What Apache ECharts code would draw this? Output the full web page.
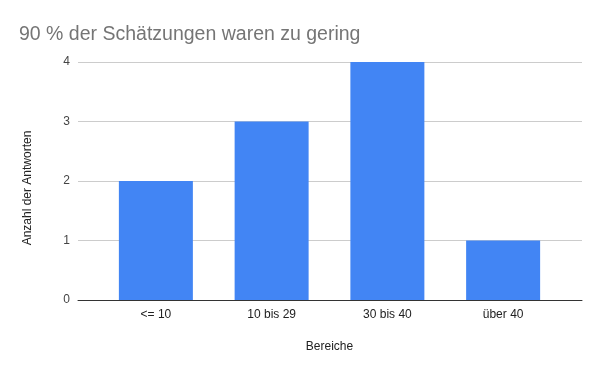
<!DOCTYPE html>
<html><head><meta charset="utf-8">
<script src="https://cdn.jsdelivr.net/npm/echarts@6/dist/echarts.min.js"></script>
<style>html,body{margin:0;padding:0;background:#fff}#c{width:600px;height:371px}</style>
</head><body><div id="c"></div>
<script>
const categories = ['<= 10', '10 bis 29', '30 bis 40', 'über 40'];
const values = [2, 3, 4, 1];
const yTicks = [0, 1, 2, 3, 4];
const titleText = '90 % der Schätzungen waren zu gering';
const xName = 'Bereiche';
const yName = 'Anzahl der Antworten';

const chart = echarts.init(document.getElementById('c'), null, {renderer: 'canvas'});
const font = 'Arial, "Liberation Sans", sans-serif';
chart.setOption({
  animation: false,
  title: {text: titleText, left: 14, top: 20,
    textStyle: {fontFamily: font, fontSize: 19.5, fontWeight: 'normal', color: '#757575'}},
  grid: [
    {left: 98, right: 39, top: 62, bottom: 71},
    {left: 78, right: 18, top: 62, bottom: 71}
  ],
  graphic: [{
    type: 'text', x: 28, y: 188, rotation: Math.PI / 2,
    style: {text: yName, font: '12px Arial, "Liberation Sans", sans-serif', fill: '#222',
      align: 'center', verticalAlign: 'middle'}
  }],
  xAxis: [
    {gridIndex: 0, type: 'category', data: categories,
      axisLine: {show: false}, axisTick: {show: false},
      axisLabel: {fontFamily: font, fontSize: 12, color: '#222', margin: 9},
      name: xName, nameLocation: 'middle', nameGap: 41,
      nameTextStyle: {fontFamily: font, fontSize: 12, color: '#222'}},
    {gridIndex: 1, type: 'value', min: 0, max: 1, show: true,
      axisLine: {show: true, onZero: false, lineStyle: {color: '#333', width: 1}},
      axisTick: {show: false}, axisLabel: {show: false}, splitLine: {show: false}}
  ],
  yAxis: [
    {gridIndex: 0, type: 'value', min: yTicks[0], max: yTicks[yTicks.length-1], interval: 1,
      axisLine: {show: false}, axisTick: {show: false}, axisLabel: {show: false}, splitLine: {show: false}},
    {gridIndex: 1, type: 'value', min: yTicks[0], max: yTicks[yTicks.length-1], interval: 1,
      axisLine: {show: false}, axisTick: {show: false},
      axisLabel: {fontFamily: font, fontSize: 12, color: '#444', margin: 8},
      splitLine: {lineStyle: {color: '#cccccc', width: 1}}}
  ],
  series: [{
    type: 'bar', xAxisIndex: 0, yAxisIndex: 0, data: values,
    barWidth: 74, z: 3,
    itemStyle: {color: '#4285F4'}
  }]
});
</script></body></html>
